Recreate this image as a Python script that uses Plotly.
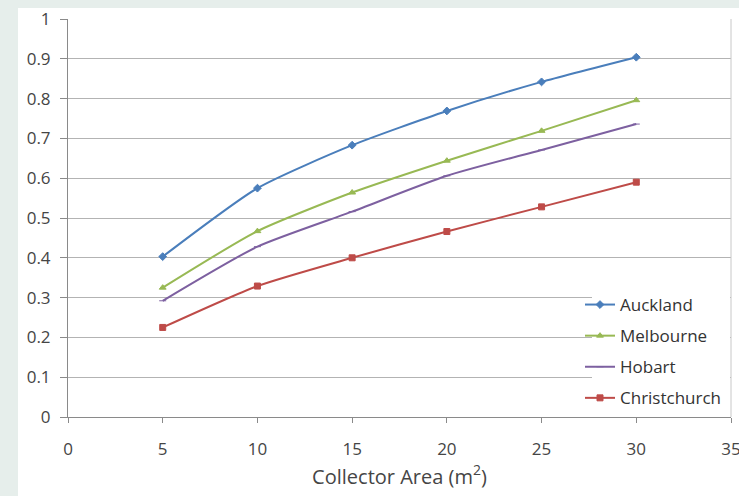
import plotly.graph_objects as go

# Solar fraction vs. collector area for four cities
collector_area = [5, 10, 15, 20, 25, 30]
auckland = [0.403, 0.575, 0.683, 0.769, 0.842, 0.904]
melbourne = [0.325, 0.467, 0.564, 0.644, 0.719, 0.796]
hobart = [0.292, 0.428, 0.516, 0.606, 0.671, 0.736]
christchurch = [0.225, 0.329, 0.400, 0.466, 0.528, 0.590]

x_ticks = [0, 5, 10, 15, 20, 25, 30, 35]
y_ticks = [0, 0.1, 0.2, 0.3, 0.4, 0.5, 0.6, 0.7, 0.8, 0.9, 1]
y_tick_text = ["0", "0.1", "0.2", "0.3", "0.4", "0.5", "0.6", "0.7", "0.8", "0.9", "1"]

series = [
    ("Auckland", auckland, "#4a7ebb", "diamond", 6),
    ("Melbourne", melbourne, "#98b954", "triangle-up", 6),
    ("Hobart", hobart, "#7d60a0", "line-ew", 5),
    ("Christchurch", christchurch, "#be4b48", "square", 6),
]

fig = go.Figure()
for name, vals, color, sym, size in series:
    fig.add_trace(go.Scatter(
        x=collector_area, y=vals, name=name, legendgroup=name,
        mode="lines+markers",
        line=dict(color=color, width=2, shape="spline", smoothing=0.6),
        marker=dict(symbol=sym, size=size, color=color,
                    line=dict(color=color, width=1)),
    ))

font_family = "Open Sans, Liberation Sans, sans-serif"
text_color = "#454545"

# pixel -> paper coordinate helpers for the 663x398 plot area
def px_x(p):
    return (p - 68) / 663

def px_y(p):
    return (417 - p) / 398

# Outer frame: light grey-teal strip on the top and left, white chart area
fig.add_shape(type="rect", xref="paper", yref="paper",
              x0=px_x(18), x1=px_x(745), y0=px_y(500), y1=px_y(8),
              fillcolor="white", line=dict(width=0), layer="below")

# White panel behind the legend, hiding the gridlines there
fig.add_shape(type="rect", xref="paper", yref="paper",
              x0=px_x(592), x1=px_x(730), y0=px_y(416), y1=px_y(285),
              fillcolor="white", line=dict(width=0), layer="above")

# Right border of the plot area
fig.add_shape(type="line", xref="paper", yref="paper",
              x0=1, x1=1, y0=0, y1=1,
              line=dict(color="#c8c8c8", width=1), layer="above")

fig.update_layout(
    width=739, height=496,
    margin=dict(l=68, r=8, t=19, b=79, autoexpand=False),
    paper_bgcolor="#e6eeeb",
    plot_bgcolor="white",
    font=dict(family=font_family, size=17, color=text_color),
    showlegend=True,
    legend=dict(
        x=px_x(580), y=px_y(287),
        xanchor="left", yanchor="top",
        bgcolor="rgba(0,0,0,0)", borderwidth=0,
        font=dict(size=17, color="#333333"),
        tracegroupgap=6, itemwidth=30,
        traceorder="grouped",
    ),
    xaxis=dict(
        range=[0, 35], tickvals=x_ticks,
        showgrid=False, zeroline=False,
        showline=True, linecolor="#8a8a8a", linewidth=1,
        ticks="outside", ticklen=5, tickcolor="#8a8a8a",
        ticklabelstandoff=12, ticklabeloverflow="allow",
        tickfont=dict(size=17, color=text_color),
        title=dict(text="Collector Area (m<sup>2</sup>)",
                   font=dict(size=20, color=text_color), standoff=3),
    ),
    yaxis=dict(
        range=[0, 1], tickvals=y_ticks, ticktext=y_tick_text,
        showgrid=True, gridcolor="#b3b3b3", gridwidth=1,
        zeroline=False,
        showline=True, linecolor="#8a8a8a", linewidth=1,
        ticks="outside", ticklen=7, tickcolor="#8a8a8a",
        ticklabelstandoff=6,
        tickfont=dict(size=17, color=text_color),
    ),
)

fig.write_html("out.html")
